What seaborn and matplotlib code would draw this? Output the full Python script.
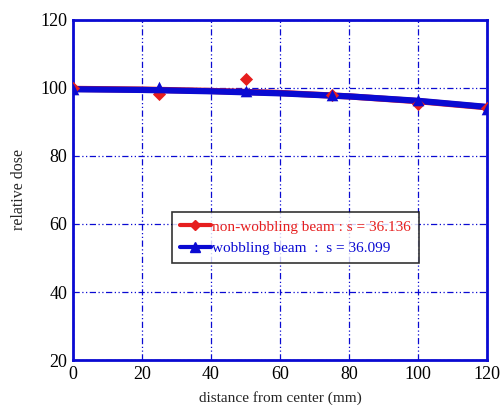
import pandas as pd
import numpy as np
import matplotlib
matplotlib.use('Agg')
import matplotlib.pyplot as plt
from matplotlib.lines import Line2D
import seaborn as sns

# measured points
dist = [0, 25, 50, 75, 100, 120]
nonwob = [100.0, 98.3, 102.6, 97.8, 95.2, 94.0]
wob = [99.6, 100.3, 99.1, 97.9, 96.3, 93.9]

# fitted curves
fit_x = [0, 20, 40, 60, 80, 100, 120]
fit_nonwob = [99.7, 99.5, 99.1, 98.5, 97.5, 96.1, 94.3]
fit_wob = [99.6, 99.4, 99.0, 98.4, 97.5, 96.2, 94.4]

labels = ['non-wobbling beam : s = 36.136', 'wobbling beam  :  s = 36.099']

red = '#e61e1e'
blue = '#0a0ad2'

sns.set_style('white')
plt.rcParams['font.family'] = ['Liberation Serif', 'DejaVu Serif']

fit = pd.DataFrame({'x': fit_x * 2,
                    'y': fit_nonwob + fit_wob,
                    'beam': ['non'] * len(fit_x) + ['wob'] * len(fit_x)})
pts_n = pd.DataFrame({'x': dist, 'y': nonwob})
pts_w = pd.DataFrame({'x': dist, 'y': wob})

fig = plt.figure(figsize=(5, 4.05), dpi=100)
ax = fig.add_axes([0.146, 0.111, 0.828, 0.84])

sns.lineplot(data=fit, x='x', y='y', hue='beam', palette=[red, blue],
             linewidth=4.5, legend=False, ax=ax)
sns.scatterplot(data=pts_n, x='x', y='y', marker='D', color=red, s=45,
                edgecolor=red, linewidth=0, ax=ax, zorder=3)
sns.scatterplot(data=pts_w, x='x', y='y', marker='^', color=blue, s=70,
                edgecolor=blue, linewidth=0, ax=ax, zorder=4)

ax.set_xlim(0, 120)
ax.set_ylim(20, 120)
ax.set_xticks(range(0, 121, 20))
ax.set_yticks(range(20, 121, 20))
ax.grid(True, color=blue, linestyle=(0, (5, 2, 1, 2, 1, 2)), linewidth=0.9)
for sp in ax.spines.values():
    sp.set_color(blue)
    sp.set_linewidth(2)
ax.tick_params(axis='both', direction='in', length=4, color=blue,
               labelsize=13, labelcolor='black', pad=4)
ax.set_xlabel('distance from center (mm)', fontsize=11, labelpad=6)
ax.set_ylabel('relative dose', fontsize=11.5, labelpad=10)

handles = [Line2D([], [], color=red, marker='D', markersize=5, linewidth=3),
           Line2D([], [], color=blue, marker='^', markersize=7, linewidth=3)]
leg = ax.legend(handles, labels, loc='center left', bbox_to_anchor=(0.24, 0.36),
                fontsize=11, frameon=True, fancybox=False, handlelength=2.0,
                handletextpad=0.1, borderpad=0.5, labelspacing=0.5, borderaxespad=0)
leg.get_frame().set_edgecolor('black')
leg.get_frame().set_linewidth(1.2)
leg.get_texts()[0].set_color(red)
leg.get_texts()[1].set_color(blue)

fig.savefig('out.png', dpi=100)
